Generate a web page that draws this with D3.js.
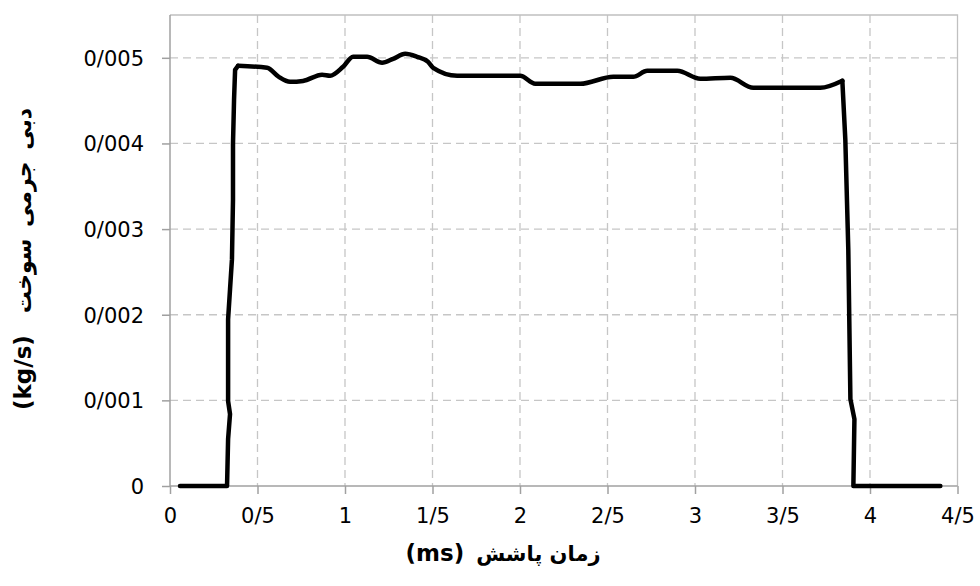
<!DOCTYPE html>
<html>
<head>
<meta charset="utf-8">
<script src="https://cdn.jsdelivr.net/npm/d3@7"></script>
<style>
  html, body { margin: 0; padding: 0; background: #ffffff; }
  svg { display: block; }
</style>
</head>
<body>
<svg id="chart" width="980" height="586"></svg>
<script>
// Injection time (ms) and fuel mass flow rate (kg/s)
const timeMs = [0.057, 0.326, 0.332, 0.343, 0.332, 0.332, 0.343, 0.354, 0.360, 0.360, 0.366, 0.372, 0.389,
  0.555, 0.620, 0.686, 0.760, 0.869, 0.915, 0.989, 1.046, 1.126, 1.212, 1.275, 1.344, 1.412, 1.475, 1.504,
  1.641, 2.001, 2.087, 2.344, 2.533, 2.647, 2.727, 2.899, 3.030, 3.202, 3.333, 3.716, 3.842,
  3.859, 3.876, 3.888, 3.911, 3.905, 4.402];
const massFlow = [0, 0, 0.000548, 0.000839, 0.000991, 0.001946, 0.002296, 0.002646, 0.003345, 0.003998, 0.004510, 0.004860, 0.004907,
  0.004883, 0.004780, 0.004720, 0.004730, 0.004802, 0.004790, 0.004895, 0.005012, 0.005012, 0.004942, 0.004988, 0.005047, 0.005012, 0.004953, 0.004883,
  0.004790, 0.004790, 0.004697, 0.004697, 0.004779, 0.004779, 0.004848, 0.004848, 0.004755, 0.004767, 0.004650, 0.004650, 0.004732,
  0.004044, 0.002762, 0.001014, 0.000781, 0, 0];

const xTicks = [0, 0.5, 1, 1.5, 2, 2.5, 3, 3.5, 4, 4.5];
const xTickLabels = ["0", "0/5", "1", "1/5", "2", "2/5", "3", "3/5", "4", "4/5"];
const yTicks = [0, 0.001, 0.002, 0.003, 0.004, 0.005];
const yTickLabels = ["0", "0/001", "0/002", "0/003", "0/004", "0/005"];

const xTitleUnit = "(ms)";
const xTitleText = "زمان پاشش";
const yTitleUnit = "(kg/s)";
const yTitleText = "دبی جرمی سوخت";

const svg = d3.select("#chart");
const plotLeft = 170, plotRight = 957.5, plotTop = 15, plotBottom = 486;

const x = d3.scaleLinear().domain([0, 4.5]).range([plotLeft, plotRight]);
const y = d3.scaleLinear().domain([0, 0.0055]).range([plotBottom, plotTop]);

const gridColor = "#c6c6c6";
const axisColor = "#a0a0a0";
const font = "'DejaVu Sans', 'Noto Sans', sans-serif";

// dashed grid
const grid = svg.append("g");
grid.selectAll("line.vx").data(xTicks.filter(d => d > 0 && d < 4.5)).enter().append("line")
  .attr("x1", d => x(d)).attr("x2", d => x(d))
  .attr("y1", plotTop).attr("y2", plotBottom)
  .attr("stroke", gridColor).attr("stroke-width", 1.3).attr("stroke-dasharray", "8,5");
grid.selectAll("line.hy").data(yTicks.filter(d => d > 0)).enter().append("line")
  .attr("x1", plotLeft).attr("x2", plotRight)
  .attr("y1", d => y(d)).attr("y2", d => y(d))
  .attr("stroke", gridColor).attr("stroke-width", 1.3).attr("stroke-dasharray", "8,5");

// plot border (top and right)
svg.append("path")
  .attr("d", `M${plotLeft},${plotTop}H${plotRight}V${plotBottom}`)
  .attr("fill", "none").attr("stroke", "#c0c0c0").attr("stroke-width", 1.3);

// axes
const xAxis = d3.axisBottom(x).tickValues(xTicks).tickFormat((d, i) => xTickLabels[i]).tickSize(8).tickSizeOuter(0).tickPadding(14);
const yAxis = d3.axisLeft(y).tickValues(yTicks).tickFormat((d, i) => yTickLabels[i]).tickSize(8).tickSizeOuter(0).tickPadding(18);

const gx = svg.append("g").attr("transform", `translate(0,${plotBottom})`).call(xAxis);
gx.select(".domain").attr("d", `M${plotLeft},0H${plotRight}`);
const gy = svg.append("g").attr("transform", `translate(${plotLeft},0)`).call(yAxis);
gy.select(".domain").attr("d", `M0,${plotBottom}V${plotTop}`);

[gx, gy].forEach(g => {
  g.select(".domain").attr("stroke", axisColor).attr("stroke-width", 1.5);
  g.selectAll(".tick line").attr("stroke", axisColor).attr("stroke-width", 1.5);
  g.selectAll(".tick text").attr("fill", "#000").style("font-family", font).style("font-size", "21px");
});
gy.selectAll(".tick text").attr("dy", "0.35em");

// mass flow curve: the steep opening/closing edges are drawn straight,
// the plateau is smoothed with a monotone curve (x increases there)
const pts = timeMs.map((t, i) => [t, massFlow[i]]);
const plateauStart = 12, plateauEnd = 40;
const segments = [
  { data: pts.slice(0, plateauStart + 1), curve: d3.curveLinear },
  { data: pts.slice(plateauStart, plateauEnd + 1), curve: d3.curveMonotoneX },
  { data: pts.slice(plateauEnd), curve: d3.curveLinear }
];

svg.append("g").selectAll("path").data(segments).enter().append("path")
  .attr("d", s => d3.line().x(d => x(d[0])).y(d => y(d[1])).curve(s.curve)(s.data))
  .attr("fill", "none")
  .attr("stroke", "#000")
  .attr("stroke-width", 4.5)
  .attr("stroke-linejoin", "round")
  .attr("stroke-linecap", "round");

// axis titles: unit on the left, Persian label on the right
const xt = svg.append("text")
  .attr("x", 503).attr("y", 561)
  .attr("text-anchor", "middle")
  .style("font-family", font).style("font-weight", "bold");
xt.append("tspan").style("font-size", "23px").text(xTitleUnit);
xt.append("tspan").attr("dx", 12).style("font-size", "21px").text(xTitleText);

const yt = svg.append("text")
  .attr("transform", "translate(31,259) rotate(-90)")
  .attr("text-anchor", "middle")
  .style("font-family", font).style("font-weight", "bold");
yt.append("tspan").style("font-size", "23px").text(yTitleUnit);
yt.append("tspan").attr("dx", 22).style("font-size", "22px").style("word-spacing", "4px").text(yTitleText);
</script>
</body>
</html>
